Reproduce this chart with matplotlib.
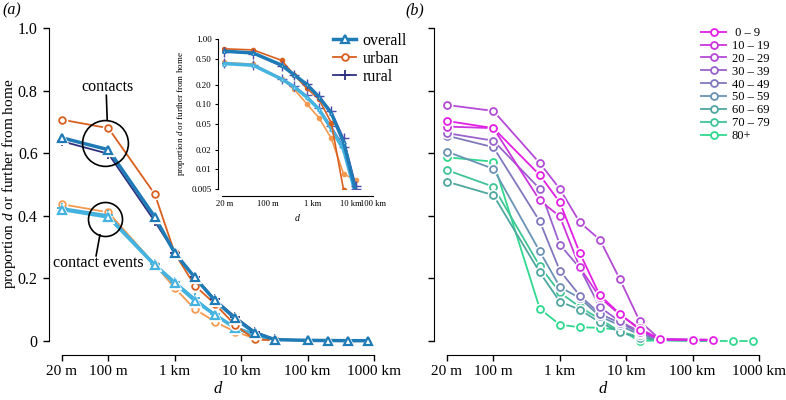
import matplotlib
matplotlib.use('Agg')
import matplotlib.pyplot as plt
from matplotlib.lines import Line2D

plt.rcParams['font.family'] = ['Liberation Serif', 'DejaVu Serif']
plt.rcParams['mathtext.fontset'] = 'custom'
plt.rcParams['mathtext.it'] = 'Liberation Serif:italic'
plt.rcParams['mathtext.rm'] = 'Liberation Serif'

# distances in metres
dist = [20, 100, 500, 1e3, 2e3, 4e3, 8e3, 16e3, 32e3, 1e5, 2e5, 4e5, 8e5]

# panel (a): proportion of contacts / contact events at distance d or further
overall_contacts = [0.649, 0.611, 0.396, 0.281, 0.203, 0.130, 0.073, 0.026, 0.0045, 0.002, 0.0015, 0.001, 0.001]
urban_contacts = [0.707, 0.680, 0.469, 0.280, 0.177, 0.119, 0.052, 0.0048, 0.002]
rural_contacts = [0.638, 0.598, 0.382, 0.282, 0.205, 0.133, 0.078, 0.030, 0.0055]
overall_events = [0.420, 0.396, 0.242, 0.185, 0.129, 0.084, 0.042, 0.020, 0.004]
urban_events = [0.437, 0.411, 0.244, 0.169, 0.102, 0.062, 0.030, 0.0085, 0.0068]
rural_events = [0.425, 0.402, 0.246, 0.190, 0.136, 0.086, 0.046, 0.022, 0.005]

# panel (b): by age group
age_labels = [' 0 – 9', '10 – 19', '20 – 29', '30 – 39', '40 – 49',
              '50 – 59', '60 – 69', '70 – 79', '80+']
age_values = [
    [0.703, 0.680, 0.530, 0.443, 0.281, 0.146, 0.087, 0.036, 0.005, 0.003, 0.003],
    [0.685, 0.680, 0.449, 0.398, 0.235, 0.140, 0.084, 0.040, 0.006, 0.004, 0.004],
    [0.754, 0.735, 0.568, 0.486, 0.379, 0.324, 0.198, 0.063, 0.006, 0.005, 0.004],
    [0.664, 0.640, 0.486, 0.308, 0.233, 0.108, 0.063, 0.030, 0.005, 0.004, 0.003],
    [0.656, 0.619, 0.382, 0.225, 0.145, 0.087, 0.058, 0.026, 0.004, 0.003, 0.003],
    [0.605, 0.550, 0.286, 0.173, 0.137, 0.079, 0.050, 0.020, 0.004, 0.003, 0.002],
    [0.509, 0.466, 0.219, 0.126, 0.100, 0.060, 0.028, 0.010, 0.003, 0.002, 0.002],
    [0.546, 0.493, 0.239, 0.155, 0.109, 0.070, 0.031, 0.012, 0.003, 0.002, 0.001],
    [0.587, 0.573, 0.103, 0.052, 0.044, 0.042, 0.036, 0.000, 0.002, 0.000, 0.000, 0.000, 0.000],
]
age_colors = ['#e41ee4', '#cc35de', '#b44ad6', '#9a62cc', '#8078bd',
              '#6a92b4', '#4ea79f', '#3fc495', '#2fd98f']

c_ov, c_ov2 = '#1f7bb6', '#45b3e0'
c_ur, c_ur2 = '#d95f1e', '#f39a50'
c_ru, c_ru2 = '#2d2f7f', '#3fa9d8'

W, H = 786, 400
fig = plt.figure(figsize=(W / 100, H / 100), dpi=100)


def series(ax, y, color, marker, ms, lw, mew=1.3, z=2, halo=True):
    x = dist[:len(y)]
    ax.plot(x, y, color=color, lw=lw, zorder=z, clip_on=False)
    if halo:
        ax.plot(x, y, ls='none', marker=marker, ms=ms + 2.5, color='white',
                zorder=z + 0.1, clip_on=False)
    ax.plot(x, y, ls='none', marker=marker, ms=ms, mfc='white', mec=color,
            mew=mew, zorder=z + 0.2, clip_on=False)


def style_main(ax, labels=True):
    ax.set_xscale('log')
    ax.set_xlim(20 * 10 ** (-7 / 66.4), 1e6 * 10 ** (7 / 66.4))
    ax.set_ylim(-5 / 313, 1.0)
    for s in ['top', 'right']:
        ax.spines[s].set_visible(False)
    ax.spines['left'].set_position(('outward', 4.5))
    ax.spines['bottom'].set_position(('outward', 6.5))
    ax.spines['left'].set_bounds(0, 1)
    ax.spines['bottom'].set_bounds(20, 1e6)
    ax.set_xticks([20, 100, 1e3, 1e4, 1e5, 1e6])
    ax.set_xticklabels(['20 m', '100 m', '1 km', '10 km', '100 km', '1000 km'])
    ax.minorticks_off()
    ax.set_yticks([0, 0.2, 0.4, 0.6, 0.8, 1.0])
    if labels:
        ax.set_yticklabels(['0', '0.2', '0.4', '0.6', '0.8', '1.0'])
    else:
        ax.set_yticklabels([])
    ax.tick_params(axis='y', direction='out', length=4, width=1, labelsize=11.5, pad=4)
    ax.tick_params(axis='x', direction='out', length=4, width=1, labelsize=11, pad=3)
    ax.set_xlabel('$d$', fontsize=12, labelpad=2)


# ---- panel (a)
ax1 = fig.add_axes([55 / W, 54 / H, 326 / W, 318 / H])
style_main(ax1)
series(ax1, urban_events, c_ur2, 'o', 4.8, 1.3, z=2)
series(ax1, rural_events, c_ru2, '+', 7, 1.3, z=3, halo=False)
series(ax1, overall_events, c_ov2, '^', 5.5, 2.5, mew=1.6, z=4)
series(ax1, urban_contacts, c_ur, 'o', 4.8, 1.3, z=5)
series(ax1, rural_contacts, c_ru, '+', 7, 1.3, z=6, halo=False)
series(ax1, overall_contacts, c_ov, '^', 5.5, 2.5, mew=1.6, z=7)
ax1.set_ylabel('proportion $d$ or further from home', fontsize=11)
ax1.yaxis.set_label_coords(-0.113, 0.51)

# circles around the 100 m points
ax1.plot([88.7], [0.633], marker='o', ms=33, mfc='none', mec='black', mew=1.2, zorder=9)
ax1.plot([88.7], [0.390], marker='o', ms=24.5, mfc='none', mec='black', mew=1.2, zorder=9)
ax1.plot([93, 96], [0.785, 0.705], color='black', lw=1.2, zorder=9)
ax1.plot([74.5, 65.2], [0.339, 0.272], color='black', lw=1.2, zorder=9)
ax1.text(98, 0.81, 'contacts', fontsize=11.5, ha='center', va='center')
ax1.text(69.5, 0.249, 'contact events', fontsize=11.5, ha='center', va='center')

leg_handles = [
    Line2D([], [], color=c_ov, lw=2.5, marker='^', ms=5.5, mfc='white', mec=c_ov, mew=1.6),
    Line2D([], [], color=c_ur, lw=1.3, marker='o', ms=4.8, mfc='white', mec=c_ur, mew=1.3),
    Line2D([], [], color=c_ru, lw=1.3, marker='+', ms=7, mec=c_ru, mew=1.3),
]
fig.legend(leg_handles, ['overall', 'urban', 'rural'], loc='upper left',
           bbox_to_anchor=(333 / W, 1 - 33 / H), frameon=False, fontsize=11.5,
           handlelength=1.45, handletextpad=0.4, labelspacing=0.12,
           borderpad=0, borderaxespad=0)

# inset (log-log)
axi = fig.add_axes([222 / W, 1 - 189 / H, 151 / W, 150 / H])
axi.set_xscale('log')
axi.set_yscale('log')
axi.set_xlim(17.5, 83000)
axi.set_ylim(0.005, 1.0)


def series_in(y, color, marker, ms, lw, mew=1.0, z=2):
    axi.plot(dist[:len(y)], y, color=color, lw=lw, marker=marker, ms=ms,
             mfc=color if marker == 'o' else 'white', mec=color, mew=mew, zorder=z)


series_in(urban_events, c_ur2, 'o', 3, 1.2, z=2)
series_in(rural_events, '#5a5ab0', '+', 7, 1.0, z=3)
series_in(overall_events, c_ov2, '^', 2.5, 2.5, z=4)
series_in(urban_contacts, c_ur, 'o', 3, 1.2, z=5)
series_in(rural_contacts, '#4a4aa8', '+', 7, 1.0, z=6)
series_in(overall_contacts, c_ov, '^', 2.5, 2.5, z=7)
for s in ['top', 'right']:
    axi.spines[s].set_visible(False)
axi.spines['left'].set_position(('outward', 3))
axi.spines['bottom'].set_position(('outward', 5))
axi.set_yticks([0.005, 0.01, 0.02, 0.05, 0.1, 0.2, 0.5, 1.0])
axi.set_yticklabels(['0.005', '0.01', '0.02', '0.05', '0.10', '0.20', '0.50', '1.00'])
axi.set_xticks([20, 232, 2750, 24000, 83000])
axi.set_xticklabels(['20 m', '100 m', '1 km', '10 km', '100 km'])
axi.minorticks_off()
axi.tick_params(axis='y', length=2.5, width=0.8, labelsize=6.5, pad=2)
axi.tick_params(axis='x', length=0, labelsize=6.2, pad=3)
axi.set_ylabel('proportion $d$ or further from home', fontsize=6.5, labelpad=3)
axi.set_xlabel('$d$', fontsize=7, labelpad=3)

# ---- panel (b)
ax2 = fig.add_axes([440 / W, 54 / H, 326 / W, 318 / H])
style_main(ax2, labels=False)
age_handles = []
for i, (vals, col) in enumerate(zip(age_values, age_colors)):
    series(ax2, vals, col, 'o', 5, 1.3, mew=1.3, z=2 + (len(age_values) - i))
    age_handles.append(Line2D([], [], color=col, lw=1.3, marker='o', ms=5,
                              mfc='white', mec=col, mew=1.3))
fig.legend(age_handles, age_labels, loc='upper left',
           bbox_to_anchor=(701 / W, 1 - 27 / H), frameon=False, fontsize=9,
           handlelength=2.0, handletextpad=0.45, labelspacing=0.07,
           borderpad=0, borderaxespad=0)

fig.text(2 / W, 1 - 10 / H, '(a)', fontsize=11.5, style='italic', va='center')
fig.text(405 / W, 1 - 10 / H, '(b)', fontsize=11.5, style='italic', va='center')

fig.savefig('out.png', dpi=100)
